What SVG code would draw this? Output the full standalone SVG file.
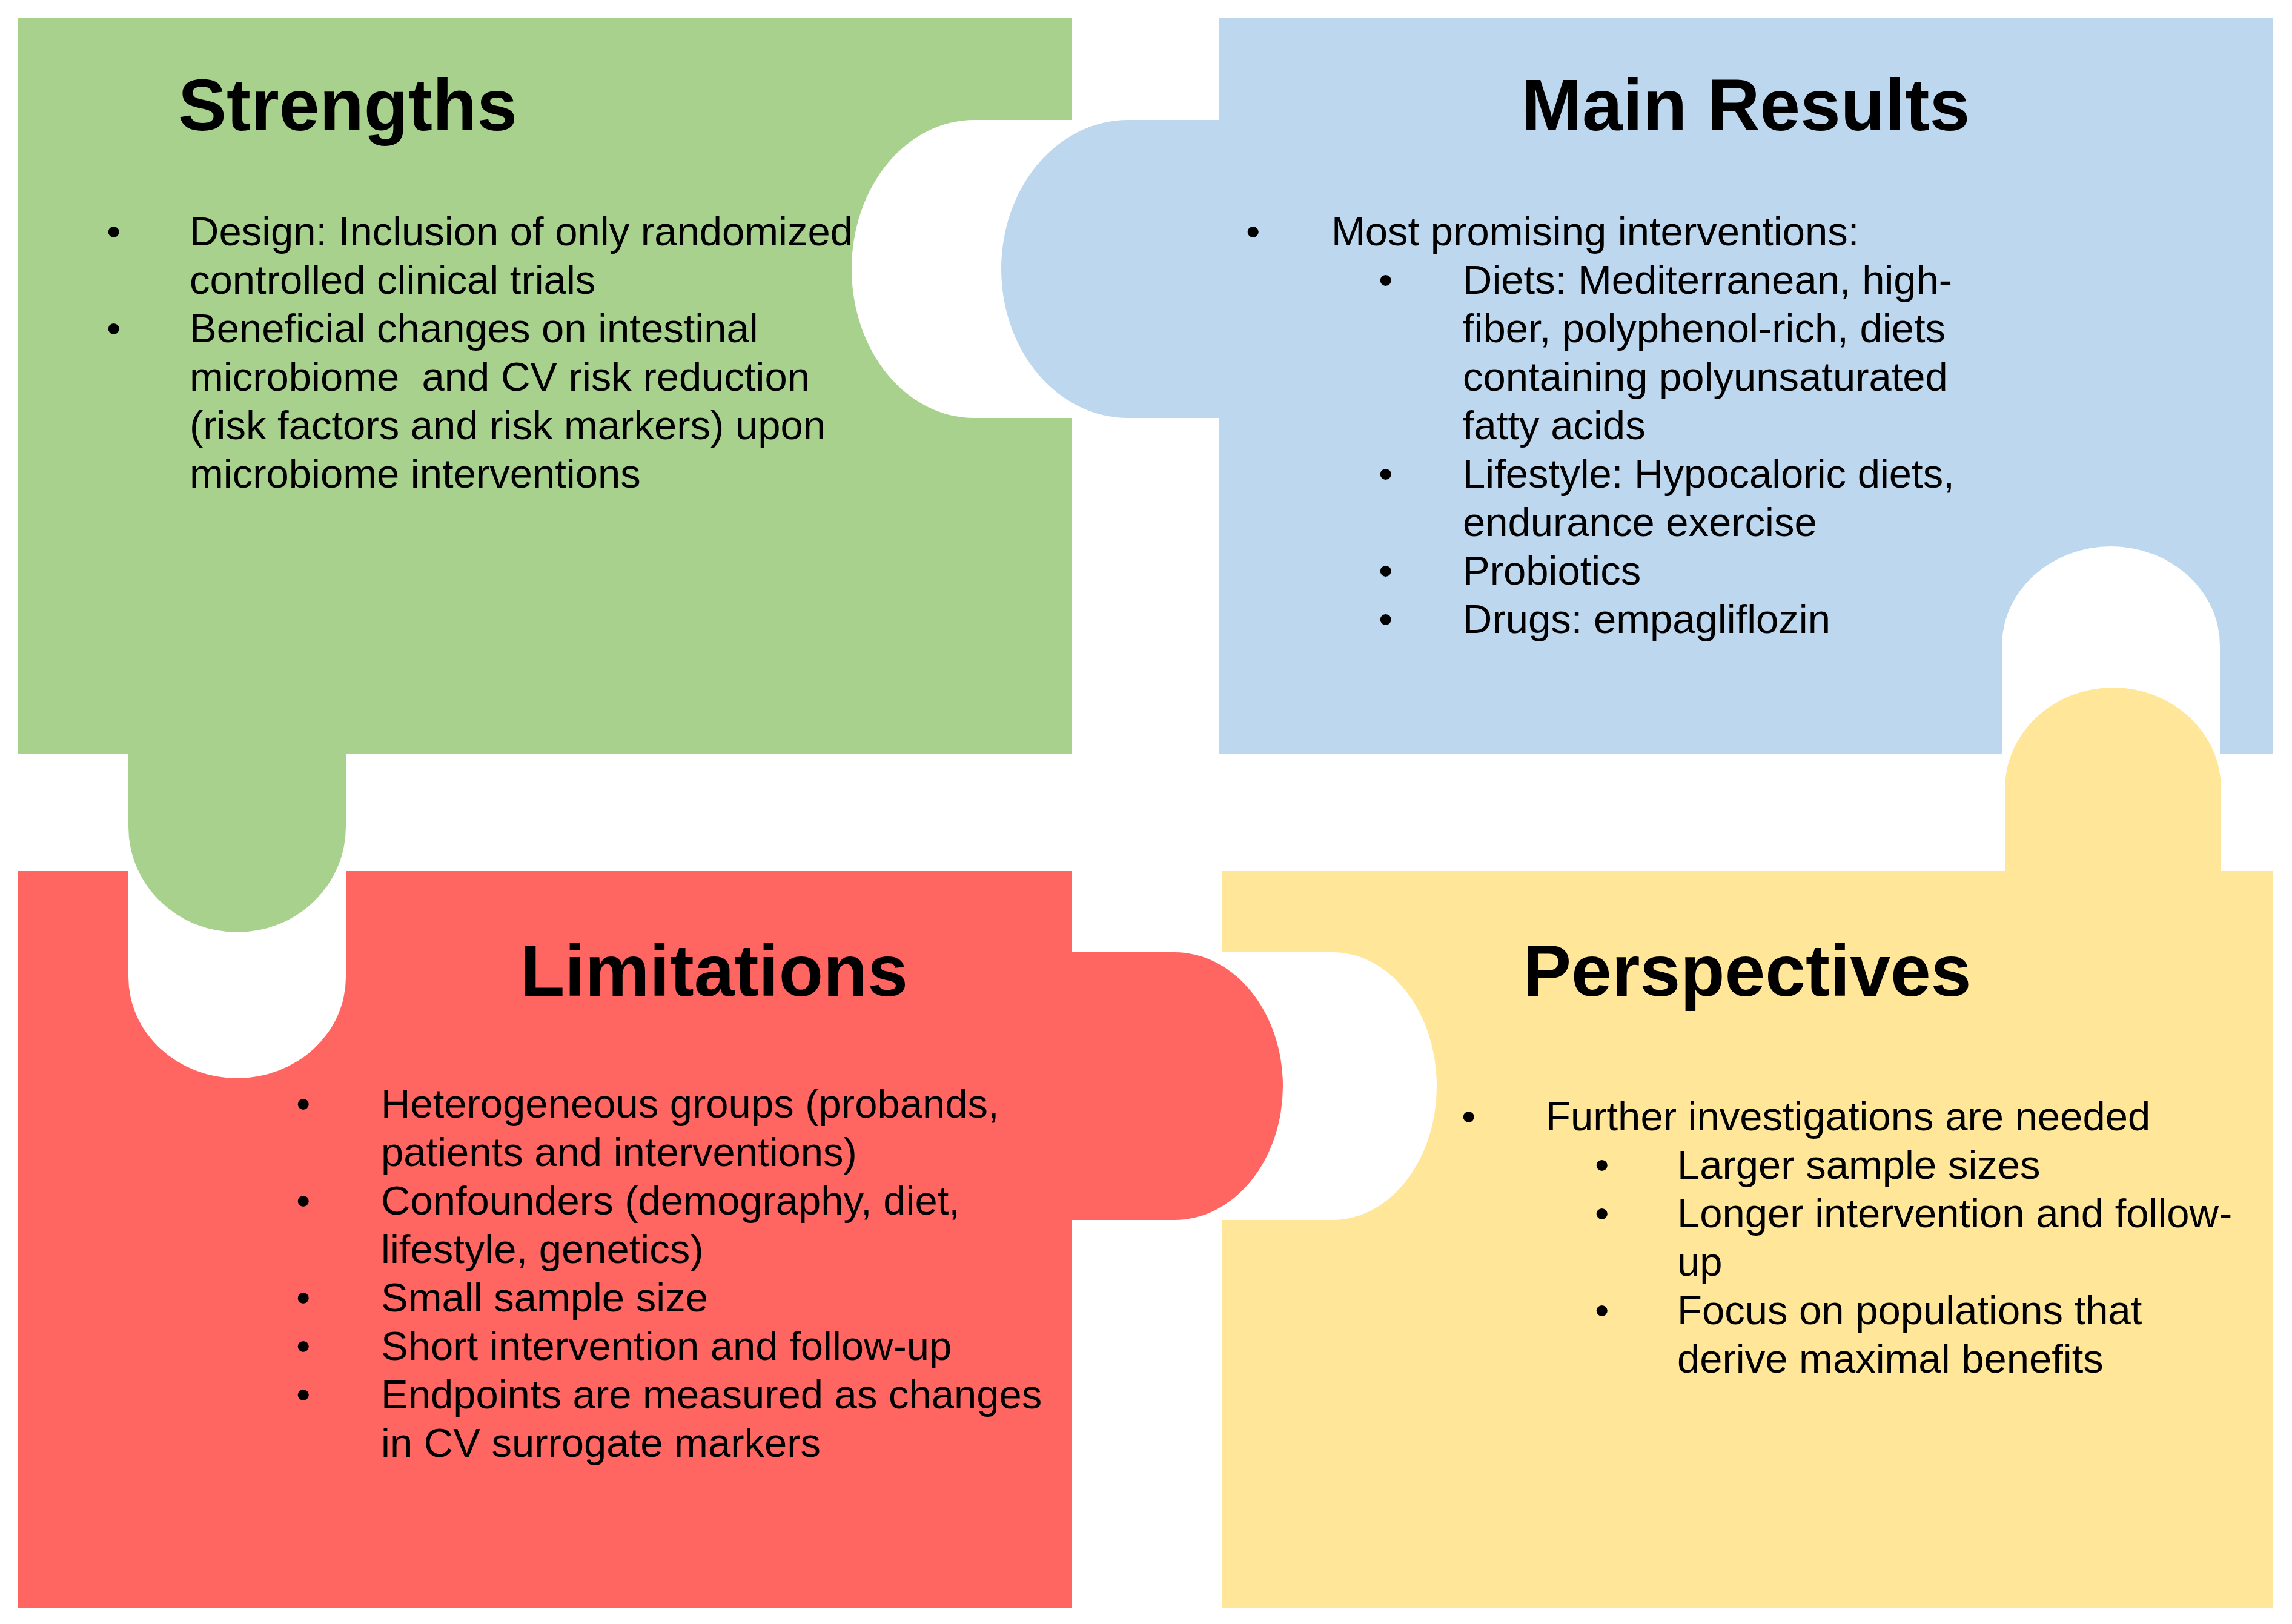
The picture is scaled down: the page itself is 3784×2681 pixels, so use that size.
<svg xmlns="http://www.w3.org/2000/svg" width="3784" height="2681" viewBox="0 0 3784 2681">
<style>
text{font-family:"Liberation Sans",Arial,Helvetica,sans-serif;fill:#000;white-space:pre}
.t{font-size:120px;font-weight:bold}
.b{font-size:67px}
.green{fill:#A9D18E}
.blue{fill:#BDD7EE}
.red{fill:#FF6661}
.yellow{fill:#FFE699}
</style>
<rect width="3784" height="2681" fill="#FFFFFF"/>
<g id="connectors"></g>
<g id="strengths">
<path class="green" d="M29,29 H1770 V198 H1608 A202 246 0 0 0 1608 690 H1770 V1245 H571 V1365 A179.5 174 0 0 1 212 1365 V1245 H29 Z"/>
<text class="t" x="294" y="215">Strengths</text>
<text class="b" x="176" y="405">•</text>
<text class="b" x="313" y="405">Design: Inclusion of only randomized</text>
<text class="b" x="313" y="485">controlled clinical trials</text>
<text class="b" x="176" y="565">•</text>
<text class="b" x="313" y="565">Beneficial changes on intestinal</text>
<text class="b" x="313" y="645">microbiome  and CV risk reduction</text>
<text class="b" x="313" y="725">(risk factors and risk markers) upon</text>
<text class="b" x="313" y="805">microbiome interventions</text>
</g>
<g id="main-results">
<path class="blue" d="M2012,29 H3753 V1245 H3665 V1066 A180 164 0 0 0 3305 1066 V1245 H2012 V690 H1862 A209 246 0 0 1 1862 198 H2012 Z"/>
<text class="t" x="2512" y="215">Main Results</text>
<text class="b" x="2057" y="405">•</text>
<text class="b" x="2198" y="405">Most promising interventions:</text>
<text class="b" x="2276" y="485">•</text>
<text class="b" x="2415" y="485">Diets: Mediterranean, high-</text>
<text class="b" x="2415" y="565">fiber, polyphenol-rich, diets</text>
<text class="b" x="2415" y="645">containing polyunsaturated</text>
<text class="b" x="2415" y="725">fatty acids</text>
<text class="b" x="2276" y="805">•</text>
<text class="b" x="2415" y="805">Lifestyle: Hypocaloric diets,</text>
<text class="b" x="2415" y="885">endurance exercise</text>
<text class="b" x="2276" y="965">•</text>
<text class="b" x="2415" y="965">Probiotics</text>
<text class="b" x="2276" y="1045">•</text>
<text class="b" x="2415" y="1045">Drugs: empagliflozin</text>
</g>
<g id="limitations">
<path class="red" d="M29,1438 H212 V1613 A179.5 167 0 0 0 571 1613 V1438 H1770 V1572 H1939 A179 221 0 0 1 1939 2014 H1770 V2655 H29 Z"/>
<text class="t" x="859" y="1644">Limitations</text>
<text class="b" x="489" y="1845">•</text>
<text class="b" x="629" y="1845">Heterogeneous groups (probands,</text>
<text class="b" x="629" y="1925">patients and interventions)</text>
<text class="b" x="489" y="2005">•</text>
<text class="b" x="629" y="2005">Confounders (demography, diet,</text>
<text class="b" x="629" y="2085">lifestyle, genetics)</text>
<text class="b" x="489" y="2165">•</text>
<text class="b" x="629" y="2165">Small sample size</text>
<text class="b" x="489" y="2245">•</text>
<text class="b" x="629" y="2245">Short intervention and follow-up</text>
<text class="b" x="489" y="2325">•</text>
<text class="b" x="629" y="2325">Endpoints are measured as changes</text>
<text class="b" x="629" y="2405">in CV surrogate markers</text>
</g>
<g id="perspectives">
<path class="yellow" d="M2018,1438 H3310 V1302 A178.5 167 0 0 1 3667 1302 V1438 H3753 V2655 H2018 V2014 H2200 A172 221 0 0 0 2200 1572 H2018 Z"/>
<text class="t" x="2514" y="1644">Perspectives</text>
<text class="b" x="2413" y="1866">•</text>
<text class="b" x="2552" y="1866">Further investigations are needed</text>
<text class="b" x="2633" y="1946">•</text>
<text class="b" x="2769" y="1946">Larger sample sizes</text>
<text class="b" x="2633" y="2026">•</text>
<text class="b" x="2769" y="2026">Longer intervention and follow-</text>
<text class="b" x="2769" y="2106">up</text>
<text class="b" x="2633" y="2186">•</text>
<text class="b" x="2769" y="2186">Focus on populations that</text>
<text class="b" x="2769" y="2266">derive maximal benefits</text>
</g>
</svg>
